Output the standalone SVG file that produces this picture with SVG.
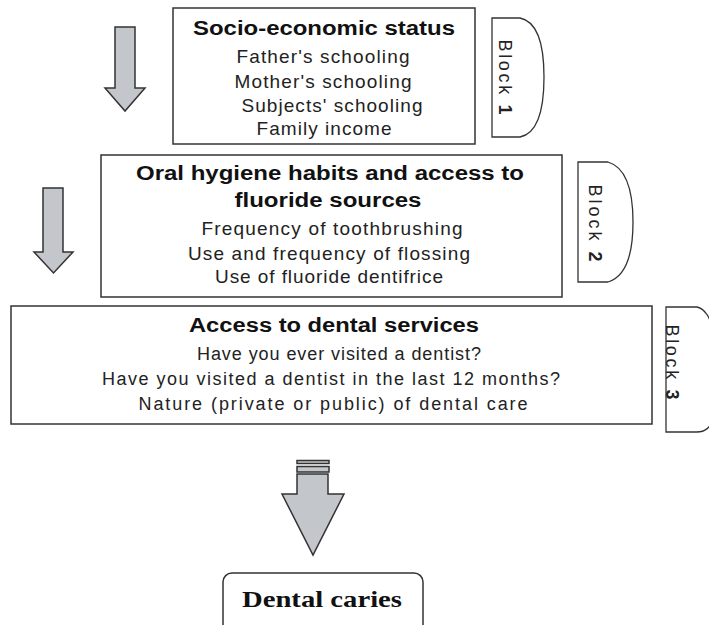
<svg xmlns="http://www.w3.org/2000/svg" width="709" height="625" viewBox="0 0 709 625">
<style>
.box{fill:#fff;stroke:#333;stroke-width:1.5}
.tab{fill:#fff;stroke:#333;stroke-width:1.3}
.arr{fill:#c3c6ca;stroke:#333;stroke-width:1.5;stroke-linejoin:miter}
.h{font-family:"Liberation Sans",Arial,sans-serif;font-weight:bold;font-size:20px;fill:#111;text-anchor:middle}
.t{font-family:"Liberation Sans",Arial,sans-serif;font-size:19px;fill:#222;text-anchor:middle}
.t3{font-family:"Liberation Sans",Arial,sans-serif;font-size:18px;fill:#222;text-anchor:middle}
.b{font-family:"Liberation Sans",Arial,sans-serif;font-size:18px;fill:#222;text-anchor:middle}
.dc{font-family:"Liberation Serif","Times New Roman",serif;font-weight:bold;font-size:24px;fill:#111;text-anchor:middle}
</style>
<rect width="709" height="625" fill="#fff"/>
<g id="connectors">
<path class="arr" d="M115,27 H135 V88 H145 L125,111 L105,88 H115 Z"/>
<path class="arr" d="M43,188 H63 V252 H73 L53.5,273 L34,252 H43 Z"/>
<rect class="arr" x="297" y="460.5" width="32" height="3" stroke-width="1.3"/>
<rect class="arr" x="297" y="466.5" width="32" height="5.5" stroke-width="1.3"/>
<path class="arr" d="M297,474 H328 V494 H344 L313,555 L282,494 H297 Z"/>
</g>
<g id="block1">
<rect class="box" x="173" y="8" width="302" height="136"/>
<text class="h" x="324" y="35" textLength="262" lengthAdjust="spacingAndGlyphs">Socio-economic status</text>
<text class="t" x="323" y="63" textLength="173" lengthAdjust="spacing">Father's schooling</text>
<text class="t" x="323" y="88" textLength="177" lengthAdjust="spacing">Mother's schooling</text>
<text class="t" x="332" y="112" textLength="181" lengthAdjust="spacing">Subjects' schooling</text>
<text class="t" x="324" y="135" textLength="135" lengthAdjust="spacing">Family income</text>
</g>
<g id="tab1">
<path class="tab" d="M492,18 H520 C540,22 544,50 544,77 C544,105 540,133 520,137 H492 Z"/>
<text class="b" transform="translate(499,77) rotate(90)" x="0" y="0" textLength="75" lengthAdjust="spacing">Block <tspan font-weight="bold">1</tspan></text>
</g>
<g id="block2">
<rect class="box" x="101" y="155" width="461" height="142"/>
<text class="h" x="330" y="180" textLength="388" lengthAdjust="spacingAndGlyphs">Oral hygiene habits and access to</text>
<text class="h" x="328" y="207" textLength="187" lengthAdjust="spacingAndGlyphs">fluoride sources</text>
<text class="t" x="332" y="235" textLength="261" lengthAdjust="spacing">Frequency of toothbrushing</text>
<text class="t" x="329" y="260" textLength="282" lengthAdjust="spacing">Use and frequency of flossing</text>
<text class="t" x="329" y="283" textLength="228" lengthAdjust="spacing">Use of fluoride dentifrice</text>
</g>
<g id="tab2">
<path class="tab" d="M578,162 H608 C628,168 633,195 633,222 C633,250 628,276 608,282 H578 Z"/>
<text class="b" transform="translate(589,223) rotate(90)" x="0" y="0" textLength="77" lengthAdjust="spacing">Block <tspan font-weight="bold">2</tspan></text>
</g>
<g id="block3">
<rect class="box" x="11" y="306" width="641" height="118"/>
<text class="h" x="334" y="332" textLength="290" lengthAdjust="spacingAndGlyphs">Access to dental services</text>
<text class="t3" x="339" y="360" textLength="284" lengthAdjust="spacing">Have you ever visited a dentist?</text>
<text class="t3" x="331" y="385" textLength="458" lengthAdjust="spacing">Have you visited a dentist in the last 12 months?</text>
<text class="t3" x="333" y="410" textLength="389" lengthAdjust="spacing">Nature (private or public) of dental care</text>
</g>
<g id="tab3">
<path class="tab" d="M666,307 H697 C705,309 711,318 712,330 V420 C711,427 705,432 697,432 H666 Z"/>
<text class="b" transform="translate(666,362) rotate(90)" x="0" y="0" textLength="75" lengthAdjust="spacing">Block <tspan font-weight="bold">3</tspan></text>
</g>
<g id="outcome">
<rect class="box" x="223" y="573" width="200" height="62" rx="9"/>
<text class="dc" x="322" y="607" textLength="160" lengthAdjust="spacingAndGlyphs">Dental caries</text>
</g>
</svg>
